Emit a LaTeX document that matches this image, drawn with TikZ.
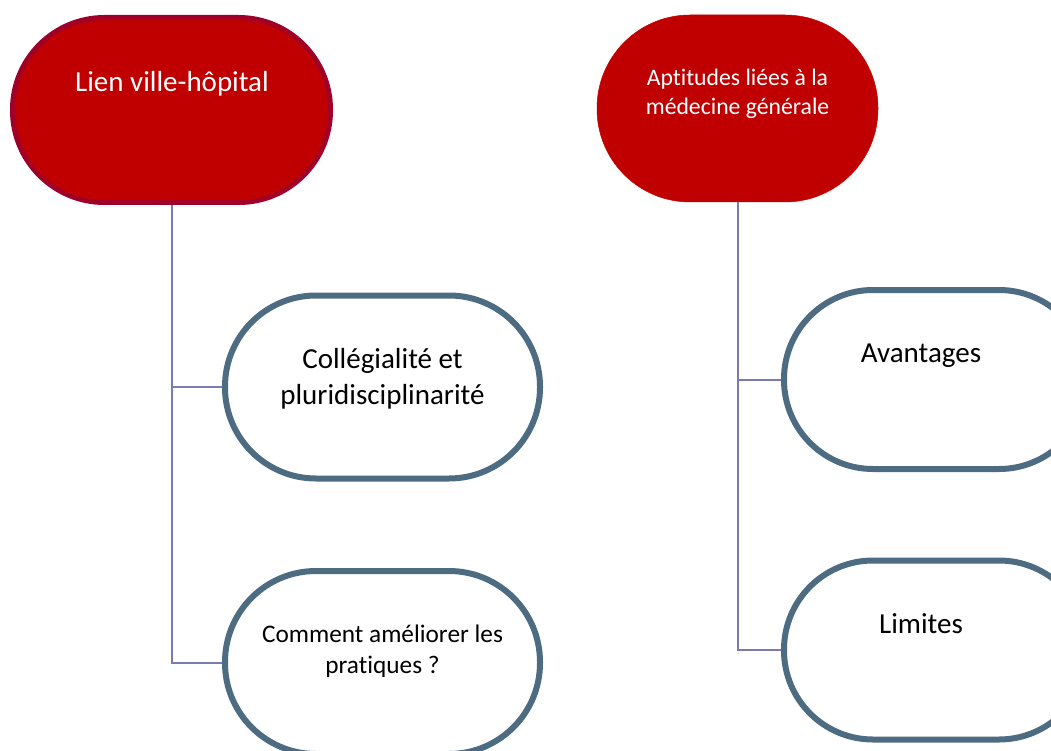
\documentclass[tikz,border=0pt]{standalone}
\usepackage{fontspec}
\setmainfont{Carlito}[Ligatures=NoCommon]
\definecolor{redfill}{RGB}{192,0,0}
\definecolor{redline}{RGB}{160,0,40}
\definecolor{boxline}{RGB}{77,108,130}
\definecolor{connline}{RGB}{124,122,178}
\begin{document}
\begin{tikzpicture}[x=1pt,y=-1pt,
  redbox/.style={draw=redline,line width=5pt,fill=redfill,rounded corners=92pt,minimum width=318pt,minimum height=185pt,inner sep=0pt},
  redbox2/.style={draw=redfill,line width=0.5pt,fill=redfill,rounded corners=93pt,minimum width=281pt,minimum height=187pt,inner sep=0pt},
  whitebox/.style={draw=boxline,line width=6pt,fill=white,rounded corners=91pt,minimum width=315pt,minimum height=183pt,inner sep=0pt},
  whitebox2/.style={draw=boxline,line width=6pt,fill=white,rounded corners=89pt,minimum width=304pt,minimum height=179pt,inner sep=0pt},
  conn/.style={draw=connline,line width=2pt},
  txt/.style={anchor=base,inner sep=0pt,align=center}]
\useasboundingbox (0,0) rectangle (1051,751);
\clip (0,0) rectangle (1051,751);
% nodes
\node[redbox] (lr) at (171.5,110) {};
\node[redbox2] (rr) at (737.5,108.5) {};
\node[whitebox] (b1) at (382.5,387) {};
\node[whitebox] (b2) at (382.5,662.5) {};
\node[whitebox2] (b3) at (936,379.5) {};
\node[whitebox2] (b4) at (936,650) {};
% connectors
\draw[conn] (lr.south) -- (lr.south |- b2.west) -- (b2.west);
\draw[conn] (lr.south |- b1.west) -- (b1.west);
\draw[conn] (rr.south) -- (rr.south |- b4.west) -- (b4.west);
\draw[conn] (rr.south |- b3.west) -- (b3.west);
% texts
\node[txt,text=white,font=\fontsize{29}{35}\selectfont] (t1) at (172,92) {Lien ville-hôpital};
\node[txt,text=white,font=\fontsize{23.7}{29}\selectfont] (t2) at (737.5,115) {Aptitudes liées à la\\médecine générale};
\node[txt,font=\fontsize{29}{36}\selectfont] (t3) at (382.5,404) {Collégialité et\\pluridisciplinarité};
\node[txt,font=\fontsize{25.3}{31}\selectfont] (t4) at (382.5,673) {Comment améliorer les\\pratiques ?};
\node[txt,font=\fontsize{29}{35}\selectfont] (t5) at (921,362) {Avantages};
\node[txt,font=\fontsize{29}{35}\selectfont] (t6) at (921,633) {Limites};
\end{tikzpicture}
\end{document}
